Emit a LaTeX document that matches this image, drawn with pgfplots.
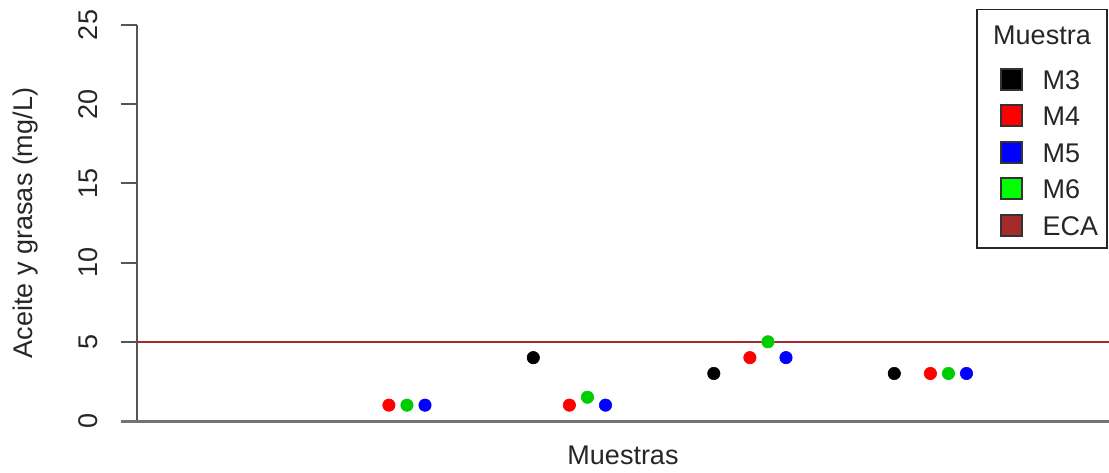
\documentclass[border=0pt]{standalone}
\usepackage{pgfplots}
\pgfplotsset{compat=1.18}
\usepackage{fontspec}
\setmainfont{Liberation Sans}

\definecolor{ecabrown}{HTML}{A52A2A}
\definecolor{ptgreen}{HTML}{00CD00}
\definecolor{sqgreen}{HTML}{00FF00}
\definecolor{axgray}{HTML}{555555}
\newcommand\axfont{\fontsize{13.5bp}{16bp}\selectfont}

\pgfplotsset{
  sq/.style={legend image code/.code={%
      \draw[draw=black!80,line width=1bp,fill=#1] (0bp,-5.25bp) rectangle (10.5bp,5.25bp);}},
  dot/.style={only marks, mark=*, mark size=3.1bp, color=#1,
      mark options={draw=#1, fill=#1, line width=0.3bp}, forget plot},
}

\begin{document}
\begin{tikzpicture}
\path[use as bounding box] (0,0) rectangle (554.5bp,236.5bp);
\begin{axis}[
  at={(68.5bp,26bp)}, anchor=south west,
  scale only axis, width=486bp, height=198bp,
  xmin=-0.1956, xmax=5.1895, ymin=0, ymax=25,
  clip=false,
  axis y line*=left, axis x line*=bottom,
  x axis line style={draw=none},
  y axis line style={draw=axgray, line width=1bp},
  xtick=\empty,
  ytick={0,5,10,15,20,25},
  tick align=outside, major tick length=8bp,
  ytick style={draw=axgray, line width=1bp},
  /pgf/number format/assume math mode=true,
  yticklabel style={font=\axfont, color=black!85, rotate=90, anchor=base, inner sep=0pt},
  yticklabel shift=12bp,
  every axis y label/.style={at={(axis description cs:-0.10761,0.5)}, rotate=90, anchor=base, inner sep=0pt, font=\axfont, color=black!85},
  every axis x label/.style={at={(axis description cs:0.5,-0.1111)}, anchor=base, inner sep=0pt, font=\axfont, color=black!85},
  xlabel={Muestras},
  ylabel={Aceite y grasas (mg/L)},
  legend style={draw=none, fill=none, inner sep=0pt,
    at={(axis description cs:0.8871,0.8927)}, anchor=north west,
    row sep=6.75bp, column sep=10bp,
    nodes={inner sep=0pt, text height=10bp, text depth=0pt, font=\axfont, text=black!85}},
  legend cell align=left,
]
% baseline at zero
\draw[black!55, line width=1.5bp] (axis cs:-0.2842,0) -- (axis cs:5.1895,0);

% ECA limit
\addplot[ecabrown, line width=1bp, forget plot] coordinates {(-0.1956,5) (5.1895,5)};

% samples
\addplot[dot=black]    coordinates {(2,4) (3,3) (4,3)};
\addplot[dot=red]      coordinates {(1.2,1) (2.2,1) (3.2,4) (4.2,3)};
\addplot[dot=ptgreen]  coordinates {(1.3,1) (2.3,1.5) (3.3,5) (4.3,3)};
\addplot[dot=blue]     coordinates {(1.4,1) (2.4,1) (3.4,4) (4.4,3)};

\addlegendimage{sq=black}
\addlegendimage{sq=red}
\addlegendimage{sq=blue}
\addlegendimage{sq=sqgreen}
\addlegendimage{sq=ecabrown}
\legend{M3,M4,M5,M6,ECA}
\end{axis}
% legend frame and title
\draw[black!85, line width=0.8bp] (488.5bp,112.5bp) rectangle (553.5bp,231.75bp);
\node[anchor=base, inner sep=0pt, font=\axfont, text=black!85] at (521bp,214bp) {Muestra};
\end{tikzpicture}
\end{document}
